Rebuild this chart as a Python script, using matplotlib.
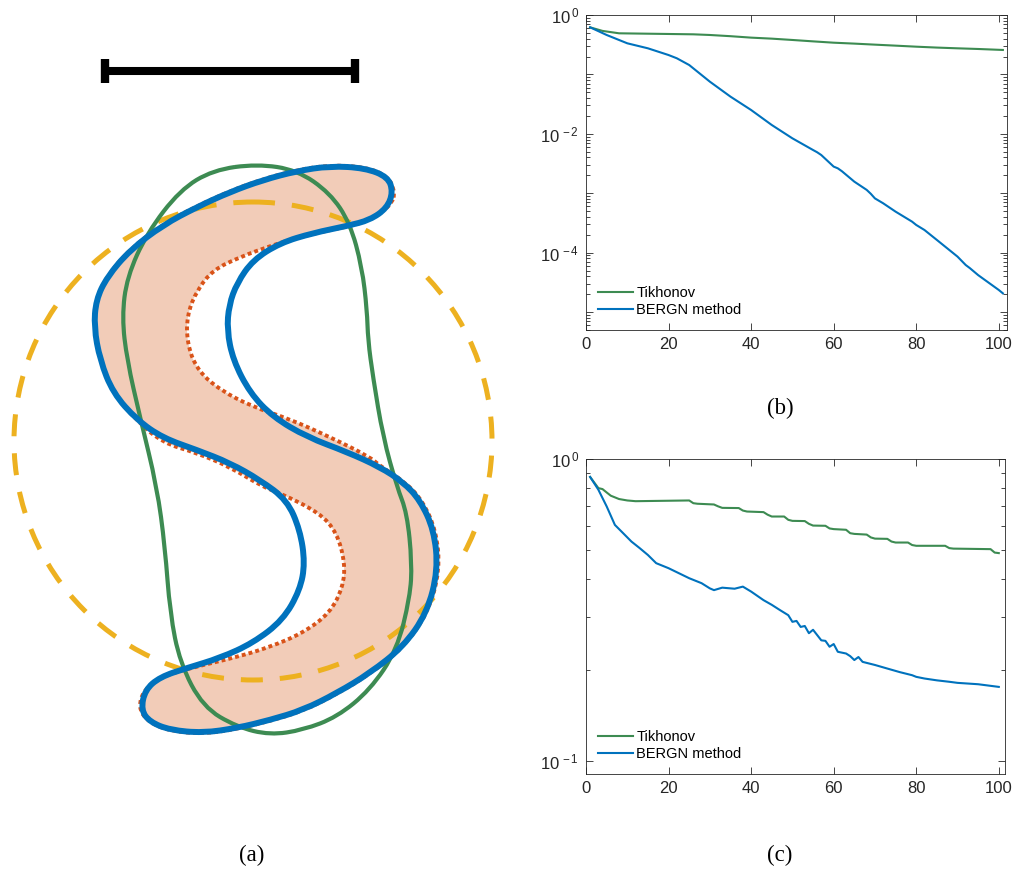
import matplotlib
matplotlib.use("Agg")
import matplotlib.pyplot as plt
import numpy as np
from matplotlib.path import Path
from matplotlib.patches import PathPatch, Circle
from matplotlib.ticker import FixedLocator, NullFormatter

plt.rcParams['font.family'] = ['Liberation Sans', 'DejaVu Sans']
plt.rcParams['mathtext.fontset'] = 'custom'
plt.rcParams['mathtext.rm'] = 'Liberation Sans'
plt.rcParams['mathtext.it'] = 'Liberation Sans:italic'
plt.rcParams['mathtext.bf'] = 'Liberation Sans:bold'

# ---------------- panel (a): shapes (picture pixel coords) ----------------
scale_bar_x = [105, 355]
scale_bar_y = 71
scale_cap_y = [59, 83]

circle_center = (253, 441)
circle_radius = 239

# true shape (filled, red dotted outline)
true_x = [395, 388, 365, 330, 297, 263, 230, 197, 163, 130, 107, 96, 94, 100, 113,
          137, 163, 197, 230, 263, 280, 320, 337, 345, 343, 330, 303, 270, 237, 203,
          165, 145, 138, 148, 170, 203, 237, 270, 303, 337, 370, 403, 428, 440, 436,
          422, 405, 380, 370, 330, 287, 253, 220, 197, 187, 187, 197, 213, 240, 273,
          300, 330, 360, 381, 392]
true_y = [192, 176, 167, 165, 170, 179, 191, 206, 224, 249, 276, 300, 327, 360, 393,
          421, 443, 453, 467, 487, 493, 513, 533, 563, 587, 613, 633, 647, 657, 665,
          675, 688, 707, 722, 731, 734, 729, 721, 711, 694, 674, 648, 613, 570, 530,
          500, 482, 466, 457, 437, 418, 407, 390, 370, 343, 315, 290, 270, 257, 245,
          237, 230, 224, 213, 203]

# reconstruction (blue)
recon_x = [393, 388, 365, 330, 297, 263, 230, 197, 163, 130, 107, 96, 94, 100, 113,
           137, 163, 197, 230, 260, 287, 300, 305, 300, 283, 253, 220, 187, 160, 145,
           141, 150, 170, 203, 237, 270, 303, 337, 370, 403, 427, 438, 434, 420, 403,
           380, 347, 307, 273, 250, 233, 227, 229, 237, 253, 280, 313, 347, 370, 387]
recon_y = [192, 177, 168, 166, 171, 180, 192, 207, 225, 250, 277, 300, 327, 360, 393,
           420, 438, 450, 463, 480, 500, 530, 563, 590, 620, 643, 658, 668, 677, 690,
           710, 722, 730, 733, 728, 720, 710, 693, 673, 647, 613, 570, 530, 500, 482,
           467, 452, 437, 417, 393, 360, 330, 305, 283, 260, 243, 233, 226, 220, 208]

# initial guess (green)
init_x = [257, 297, 330, 350, 362, 367, 368, 373, 383, 397, 407, 412, 410, 397, 370,
          337, 303, 270, 237, 203, 180, 170, 165, 157, 140, 127, 122, 127, 147, 180, 213]
init_y = [164, 170, 193, 223, 267, 310, 340, 377, 437, 487, 513, 563, 597, 650, 690,
          717, 730, 735, 727, 707, 663, 613, 547, 487, 417, 360, 317, 277, 233, 190, 170]

# ---------------- panel (b) ----------------
tik_b_x = [1, 4, 8, 26, 30, 35, 40, 45, 50, 55, 60, 65, 70, 75, 80, 85, 90, 95, 101]
tik_b_y = [0.62, 0.54, 0.492, 0.473, 0.461, 0.44, 0.416, 0.40, 0.38, 0.36, 0.342,
           0.33, 0.317, 0.305, 0.293, 0.283, 0.275, 0.268, 0.258]
ber_b_x = [1, 5, 10, 15, 20, 22, 25, 30, 35, 40, 45, 50, 55, 56, 57, 60, 61, 62, 65,
           68, 69, 70, 72, 75, 79, 80, 82, 85, 90, 92, 93, 95, 100, 101]
ber_b_y = [0.62, 0.461, 0.334, 0.275, 0.212, 0.187, 0.144, 0.0756, 0.0423, 0.0252,
           0.0141, 0.00841, 0.00535, 0.0049, 0.0044, 0.00281, 0.00263, 0.00235,
           0.00157, 0.00114, 0.00098, 0.00082, 0.000678, 0.000491, 0.000333,
           0.000293, 0.000241, 0.000164, 8.6e-5, 6.2e-5, 5.5e-5, 4.2e-5, 2.36e-5, 2.07e-5]

# ---------------- panel (c) ----------------
tik_c_x = [1, 3, 4, 5, 6, 8, 10, 12, 25, 26, 27, 31, 32, 33, 37, 38, 39, 43, 44, 45,
           48, 49, 50, 53, 54, 55, 58, 59, 60, 63, 64, 65, 68, 69, 70, 73, 74, 75, 78,
           79, 80, 87, 88, 89, 98, 99, 100]
tik_c_y = [0.872, 0.801, 0.795, 0.775, 0.756, 0.737, 0.729, 0.725, 0.729, 0.714, 0.711,
           0.707, 0.697, 0.689, 0.688, 0.675, 0.670, 0.667, 0.654, 0.645, 0.645, 0.629,
           0.624, 0.623, 0.610, 0.602, 0.601, 0.589, 0.586, 0.583, 0.568, 0.565, 0.562,
           0.550, 0.545, 0.544, 0.533, 0.529, 0.529, 0.519, 0.516, 0.516, 0.507, 0.505,
           0.503, 0.490, 0.488]
ber_c_x = [1, 3, 5, 7, 9, 11, 13, 15, 17, 20, 25, 28, 30, 31, 33, 36, 38, 40, 43, 45,
           47, 49, 50, 51, 52, 53, 54, 55, 57, 58, 59, 60, 61, 63, 64, 65, 66, 67, 70,
           73, 76, 79, 80, 82, 85, 88, 90, 95, 100]
ber_c_y = [0.872, 0.791, 0.697, 0.605, 0.568, 0.533, 0.507, 0.481, 0.452, 0.435, 0.403,
           0.388, 0.373, 0.368, 0.375, 0.372, 0.378, 0.364, 0.341, 0.329, 0.316, 0.304,
           0.289, 0.291, 0.278, 0.280, 0.265, 0.272, 0.251, 0.250, 0.239, 0.244, 0.230,
           0.227, 0.2225, 0.216, 0.221, 0.213, 0.208, 0.2024, 0.197, 0.1924, 0.190,
           0.1876, 0.185, 0.183, 0.1815, 0.1796, 0.176]

legend_labels = ['Tikhonov', 'BERGN method']

GREEN = '#3D8B52'
BLUE = '#0072BD'
RED = '#D95319'
YELLOW = '#EDB120'
FILL = '#F2CCB8'


def smooth_path(xs, ys):
    # closed quadratic b-spline drawn by matplotlib's bezier renderer
    pts = np.column_stack([xs, ys]).astype(float)
    mids = (pts + np.roll(pts, -1, axis=0)) / 2
    verts = [mids[-1]]
    codes = [Path.MOVETO]
    for p, m in zip(pts, mids):
        verts += [p, m]
        codes += [Path.CURVE3, Path.CURVE3]
    return Path(verts, codes)


fig = plt.figure(figsize=(10.16, 8.71), dpi=100)

ax = fig.add_axes([0, 0, 520 / 1016, 1])
ax.set_xlim(0, 520)
ax.set_ylim(871, 0)
ax.axis('off')

true_path = smooth_path(true_x, true_y)
ax.add_patch(PathPatch(true_path, facecolor=FILL, edgecolor='none', zorder=1))
ax.add_patch(PathPatch(true_path, facecolor='none', edgecolor=RED, lw=2.8,
                       linestyle=(0, (1, 0.8)), capstyle='butt', zorder=2))
ax.add_patch(Circle(circle_center, circle_radius, facecolor='none', edgecolor=YELLOW,
                    lw=3.6, linestyle=(0, (4.4, 3.4)), capstyle='butt', zorder=3))
ax.add_patch(PathPatch(smooth_path(init_x, init_y), facecolor='none', edgecolor=GREEN,
                       lw=3.0, zorder=4))
ax.add_patch(PathPatch(smooth_path(recon_x, recon_y), facecolor='none', edgecolor=BLUE,
                       lw=4.3, zorder=5))

ax.plot(scale_bar_x, [scale_bar_y, scale_bar_y], color='k', lw=5.8, solid_capstyle='butt')
for xb in scale_bar_x:
    ax.plot([xb, xb], scale_cap_y, color='k', lw=6, solid_capstyle='butt')


def style_axis(a, ylim, xlim, ymajor, ylabels, yminor):
    a.set_yscale('log')
    a.set_ylim(*ylim)
    a.set_xlim(*xlim)
    a.set_xticks([0, 20, 40, 60, 80, 100])
    a.set_xticklabels(['0', '20', '40', '60', '80', '100'])
    a.yaxis.set_major_locator(FixedLocator(ymajor))
    a.set_yticklabels(ylabels)
    a.yaxis.set_minor_locator(FixedLocator(yminor))
    a.yaxis.set_minor_formatter(NullFormatter())
    a.tick_params(which='both', direction='in', top=True, right=True,
                  colors='#262626', labelsize=12, width=0.6)
    a.tick_params(which='major', length=5, pad=5)
    a.tick_params(which='minor', length=3)
    for s in a.spines.values():
        s.set_color('#262626')
        s.set_linewidth(0.6)
    a.legend(frameon=False, loc='lower left', fontsize=10.5, handlelength=2.4,
             handletextpad=0.2, labelspacing=0.2, borderaxespad=0.3,
             bbox_to_anchor=(0.005, 0.01))


axb = fig.add_axes([586 / 1016, 1 - 330 / 871, 421 / 1016, 315 / 871])
axb.plot(tik_b_x, tik_b_y, color=GREEN, lw=1.5, label=legend_labels[0])
axb.plot(ber_b_x, ber_b_y, color=BLUE, lw=1.5, label=legend_labels[1])
decades_b = [1e-5, 1e-4, 1e-3, 1e-2, 1e-1, 1e0]
minor_b = [m * d for d in [1e-6, 1e-5, 1e-4, 1e-3, 1e-2, 1e-1] for m in range(2, 10)]
style_axis(axb, (5e-6, 1), (0, 102), decades_b,
           ['', r'$10^{\,-4}$', '', r'$10^{\,-2}$', '', r'$10^{\,0}$'], minor_b)

axc = fig.add_axes([586 / 1016, 1 - 774 / 871, 419 / 1016, 315 / 871])
axc.plot(tik_c_x, tik_c_y, color=GREEN, lw=1.5, label=legend_labels[0])
axc.plot(ber_c_x, ber_c_y, color=BLUE, lw=1.5, label=legend_labels[1])
minor_c = [m * 0.1 for m in range(2, 10)]
style_axis(axc, (0.0906, 1), (0, 101.5), [0.1, 1], [r'$10^{\,-1}$', r'$10^{\,0}$'], minor_c)

cap = dict(ha='center', va='center', family=['Liberation Serif', 'DejaVu Serif'], size=16.5)
fig.text(252 / 1016, 1 - 855 / 871, '(a)', **cap)
fig.text(780 / 1016, 1 - 408 / 871, '(b)', **cap)
fig.text(780 / 1016, 1 - 855 / 871, '(c)', **cap)

fig.savefig('out.png', dpi=100)
